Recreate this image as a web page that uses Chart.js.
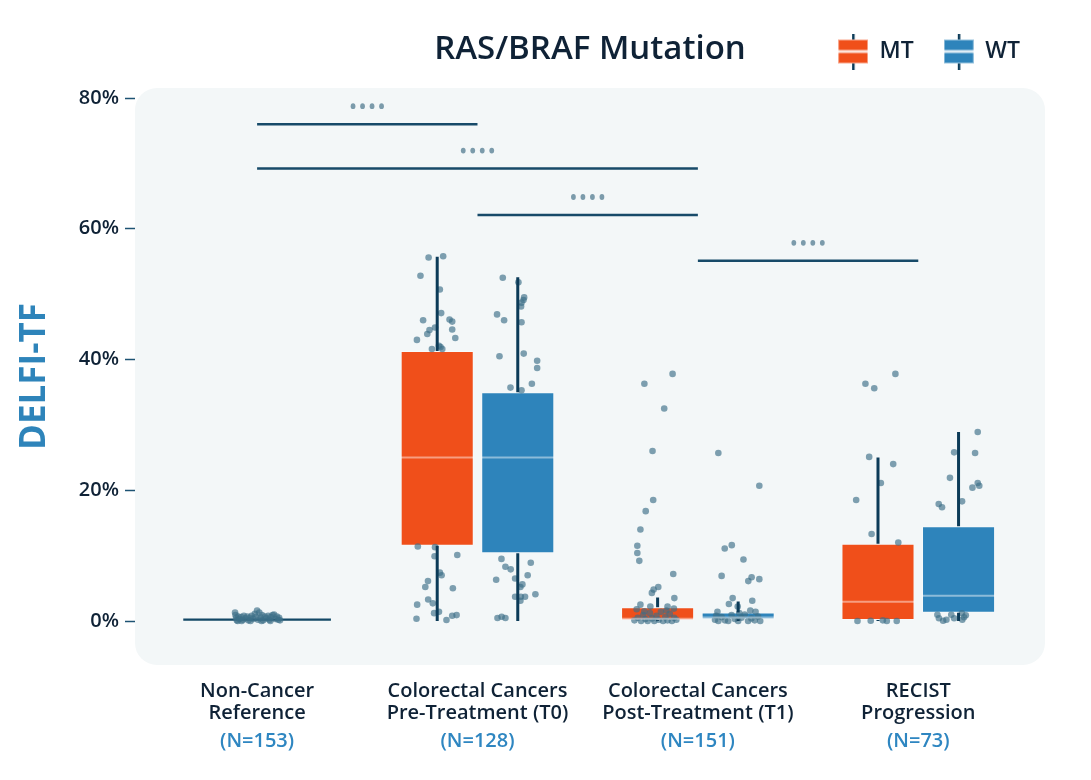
<!DOCTYPE html>
<html>
<head>
<meta charset="utf-8">
<script src="https://cdn.jsdelivr.net/npm/chart.js@4.4.1/dist/chart.umd.min.js"></script>
<style>
  html, body { margin: 0; padding: 0; background: #fff; }
  #wrap { width: 1091px; height: 780px; }
</style>
</head>
<body>
<div id="wrap"><canvas id="chart"></canvas></div>
<script>
const categories = [
    ['Non-Cancer', 'Reference'],
    ['Colorectal Cancers', 'Pre-Treatment (T0)'],
    ['Colorectal Cancers', 'Post-Treatment (T1)'],
    ['RECIST', 'Progression']
];
const sampleSizes = ['(N=153)', '(N=128)', '(N=151)', '(N=73)'];
const mutationGroups = ['MT', 'WT'];
const yTicks = [0, 20, 40, 60, 80];

// box stats (%), for groups T0, T1, RECIST
const boxGroups = [1, 2, 3];
const mtLow = [0, 0, 0];
const mtQ1 = [11.5, 0.1, 0.15];
const mtMedian = [25.0, 0.35, 2.95];
const mtQ3 = [41.3, 2.1, 11.8];
const mtHigh = [55.7, 3.6, 25.0];
const wtLow = [0, 0, 0];
const wtQ1 = [10.35, 0.25, 1.27];
const wtMedian = [25.0, 0.55, 3.87];
const wtQ3 = [35.0, 1.3, 14.5];
const wtHigh = [52.6, 3.0, 28.9];
const nonCancerBox = [0.0, 0.35];

// significance brackets
const sigFrom = [0, 0, 1, 2];
const sigTo = [1, 2, 2, 3];
const sigLevel = [76.0, 69.2, 62.1, 55.1];

// visible samples: [jitter (category units), value %]
const ptsNonCancer = [
    [-0.100, 1.3], [-0.098, 0.9], [-0.095, 0.5], [-0.092, 0.1], [-0.085, 0.7], [-0.080, 0.3],
    [-0.072, 0.6], [-0.065, 0.2], [-0.060, 0.8], [-0.052, 0.4], [-0.045, 0.7], [-0.040, 0.1],
    [-0.032, 0.5], [-0.025, 0.8], [-0.018, 0.3], [-0.010, 1.1], [-0.005, 0.6], [0.000, 1.6],
    [0.004, 0.2], [0.010, 1.3], [0.016, 0.5], [0.022, 0.9], [0.028, 0.1], [0.035, 0.7],
    [0.042, 0.4], [0.050, 0.8], [0.056, 0.2], [0.063, 0.6], [0.070, 0.9], [0.077, 1.0],
    [0.083, 0.3], [0.090, 0.7], [0.096, 0.2], [0.100, 0.5], [0.104, 0.1], [-0.070, 0.0],
    [-0.030, 0.0], [0.020, 0.0], [0.060, 0.0], [-0.088, 0.0]
];
const ptsT0MT = [
    [-0.039, 55.6], [0.027, 55.8], [-0.076, 52.8], [0.012, 50.7], [0.018, 47.1], [-0.064, 46.0],
    [0.056, 46.1], [0.068, 45.8], [-0.035, 44.5], [-0.045, 43.9], [-0.010, 44.9], [0.068, 44.6],
    [0.082, 43.3], [-0.092, 43.0], [-0.024, 41.6], [0.015, 41.9], [0.023, 41.6], [0.008, 42.1],
    [-0.088, 11.4], [-0.010, 11.3], [-0.012, 9.9], [0.091, 10.1], [0.012, 7.4], [0.020, 7.0],
    [-0.042, 6.1], [-0.054, 5.2], [0.071, 5.0], [-0.041, 3.3], [-0.020, 2.7], [-0.091, 2.5],
    [-0.014, 1.2], [0.008, 1.4], [0.068, 0.8], [0.088, 0.9], [-0.094, 0.35], [0.042, 0.15]
];
const ptsT0WT = [
    [-0.068, 52.5], [0.003, 51.8], [0.029, 49.5], [0.026, 49.1], [0.017, 48.7], [0.015, 48.1],
    [-0.094, 46.9], [-0.062, 46.0], [0.017, 45.7], [-0.083, 40.5], [0.027, 40.9], [0.088, 39.8],
    [0.088, 38.7], [0.064, 36.3], [-0.033, 35.7], [0.017, 35.3],
    [-0.074, 9.5], [0.059, 8.9], [-0.056, 8.3], [-0.032, 7.9], [0.045, 7.0], [-0.098, 6.3],
    [-0.012, 6.5], [0.021, 5.6], [0.012, 5.2], [-0.012, 3.7], [0.014, 3.7], [0.033, 3.7],
    [0.012, 3.1], [0.080, 4.1], [-0.092, 0.46], [-0.073, 0.66], [-0.056, 0.46]
];
const ptsT1MT = [
    [0.068, 37.8], [-0.060, 36.3], [0.030, 32.5], [-0.023, 26.0], [-0.020, 18.5], [-0.054, 16.8],
    [-0.078, 14.0], [-0.092, 11.5], [-0.092, 10.4], [-0.083, 9.2], [0.071, 7.2], [0.003, 5.2],
    [-0.018, 4.8], [-0.026, 4.3], [0.076, 3.5], [-0.078, 2.5], [-0.033, 2.2], [0.045, 2.2],
    [-0.095, 1.8], [0.074, 1.9],
    [-0.105, 0.1], [-0.090, 0.5], [-0.075, 0.0], [-0.065, 0.9], [-0.055, 0.3], [-0.045, 0.0],
    [-0.035, 1.2], [-0.025, 0.4], [-0.015, 0.0], [-0.005, 0.8], [0.005, 0.2], [0.015, 1.4],
    [0.025, 0.0], [0.035, 0.6], [0.045, 0.1], [0.055, 1.1], [0.065, 0.0], [0.075, 0.5],
    [0.085, 0.2], [-0.060, 1.5], [0.040, 1.6]
];
const ptsT1WT = [
    [-0.090, 25.7], [0.096, 20.7], [-0.061, 11.1], [-0.029, 11.6], [0.024, 9.4], [-0.075, 6.9],
    [0.061, 6.7], [0.046, 6.1], [0.096, 6.4], [-0.025, 3.5], [0.064, 3.1], [-0.042, 2.6],
    [-0.002, 2.2], [-0.094, 1.4], [0.055, 1.6], [0.079, 1.4],
    [-0.105, 0.2], [-0.090, 0.0], [-0.075, 0.6], [-0.060, 0.1], [-0.045, 0.0], [-0.030, 0.9],
    [-0.015, 0.3], [0.000, 0.0], [0.015, 0.5], [0.030, 1.0], [0.045, 0.0], [0.060, 0.4],
    [0.075, 0.1], [0.090, 0.7], [0.100, 0.0], [-0.100, 0.8], [0.005, 1.2]
];
const ptsRecistMT = [
    [0.079, 37.8], [-0.057, 36.3], [-0.017, 35.6], [-0.040, 25.1], [0.069, 24.0], [0.013, 21.1],
    [-0.099, 18.5], [-0.029, 13.3], [0.092, 12.0],
    [-0.093, 0.0], [-0.033, 0.05], [0.022, 0.1], [0.040, 0.0], [0.085, 0.0]
];
const ptsRecistWT = [
    [0.087, 28.9], [-0.020, 25.8], [0.075, 25.7], [-0.039, 21.9], [0.087, 21.1], [0.094, 20.7],
    [0.063, 20.4], [-0.090, 17.9], [-0.075, 17.4], [0.016, 18.3],
    [-0.096, 0.96], [-0.089, 0.41], [-0.070, 0.05], [-0.055, 0.2], [-0.033, 0.96], [-0.020, 0.41],
    [0.015, 1.18], [0.025, 0.57], [0.033, 0.87], [0.017, 0.2]
];

const MT_COLOR = '#f04f1a';
const WT_COLOR = '#2e84bb';
const INK = '#0f2236';
const WHISKER = '#0c3b58';
const CAT_PCT = 0.731;
const BAR_PCT = 0.907;
const dodge = CAT_PCT / 4;

Chart.defaults.font.family = "'Open Sans', sans-serif";
Chart.defaults.color = INK;

function toPoints(group, shift, pts) {
    return pts.map(p => ({ x: group + shift + p[0], y: p[1] }));
}

function boxData(q1, q3) {
    return boxGroups.map((g, i) => ({ x: g, y: [q1[i], q3[i]] }));
}

function boxIcon(color) {
    const c = document.createElement('canvas');
    c.width = 30;
    c.height = 36;
    const g = c.getContext('2d');
    g.fillStyle = WHISKER;
    g.fillRect(14, 0, 2.5, 36);
    g.fillStyle = color;
    g.fillRect(0, 6, 30, 24);
    g.strokeStyle = 'rgba(255,255,255,0.5)';
    g.lineWidth = 1;
    g.strokeRect(0.5, 6.5, 29, 23);
    g.fillStyle = 'rgba(255,255,255,0.85)';
    g.fillRect(0, 16.5, 30, 3);
    return c;
}

const samplePoints = [].concat(
    toPoints(0, 0, ptsNonCancer),
    toPoints(1, -dodge, ptsT0MT), toPoints(1, dodge, ptsT0WT),
    toPoints(2, -dodge, ptsT1MT), toPoints(2, dodge, ptsT1WT),
    toPoints(3, -dodge, ptsRecistMT), toPoints(3, dodge, ptsRecistWT)
);

const sigDatasets = sigLevel.map((lvl, i) => ({
    type: 'line',
    data: [{ x: sigFrom[i], y: lvl }, { x: sigTo[i], y: lvl }],
    borderColor: '#174a69',
    borderWidth: 2.5,
    pointRadius: 0,
    order: 1
}));

// extra space under the legend row, and nudge it right
const legendGap = {
    id: 'legendGap',
    afterInit(chart) {
        const fit = chart.legend.fit;
        chart.legend.fit = function () {
            fit.call(this);
            this.height += 15;
        };
    },
    afterLayout(chart) {
        chart.legend.right += 5;
    }
};

const boxExtras = {
    id: 'boxExtras',
    beforeDraw(chart) {
        const { ctx, chartArea: a } = chart;
        const r = 22;
        ctx.save();
        ctx.fillStyle = '#f3f7f8';
        ctx.beginPath();
        ctx.moveTo(a.left + r, a.top);
        ctx.arcTo(a.right, a.top, a.right, a.bottom, r);
        ctx.arcTo(a.right, a.bottom, a.left, a.bottom, r);
        ctx.arcTo(a.left, a.bottom, a.left, a.top, r);
        ctx.arcTo(a.left, a.top, a.right, a.top, r);
        ctx.closePath();
        ctx.fill();
        ctx.restore();
    },
    afterDatasetsDraw(chart) {
        const { ctx, scales: { x, y } } = chart;
        ctx.save();
        [[0, mtLow, mtMedian, mtQ1, mtQ3, mtHigh], [1, wtLow, wtMedian, wtQ1, wtQ3, wtHigh]].forEach(([di, lo, med, q1, q3, hi]) => {
            chart.getDatasetMeta(di).data.forEach((bar, i) => {
                const half = bar.width / 2;
                ctx.strokeStyle = 'rgba(255,255,255,0.45)';
                ctx.lineWidth = 2;
                ctx.beginPath();
                ctx.moveTo(bar.x - half, y.getPixelForValue(med[i]));
                ctx.lineTo(bar.x + half, y.getPixelForValue(med[i]));
                ctx.stroke();
                ctx.strokeStyle = WHISKER;
                ctx.lineWidth = 3;
                ctx.beginPath();
                ctx.moveTo(bar.x, y.getPixelForValue(q3[i]));
                ctx.lineTo(bar.x, y.getPixelForValue(hi[i]));
                ctx.moveTo(bar.x, y.getPixelForValue(lo[i]));
                ctx.lineTo(bar.x, y.getPixelForValue(q1[i]));
                ctx.stroke();
            });
        });
        // **** marks above the brackets
        ctx.fillStyle = '#7b9bab';
        sigLevel.forEach((lvl, i) => {
            const cx = x.getPixelForValue((sigFrom[i] + sigTo[i]) / 2);
            const cy = y.getPixelForValue(lvl) - 18;
            for (let k = 0; k < 4; k++) {
                ctx.beginPath();
                ctx.ellipse(cx + (k - 1.5) * 9.5, cy, 2.4, 2.9, 0, 0, Math.PI * 2);
                ctx.fill();
            }
        });
        ctx.restore();
    },
    afterDraw(chart) {
        const { ctx, chartArea: a } = chart;
        ctx.save();
        ctx.font = "600 33px 'Open Sans', sans-serif";
        ctx.fillStyle = INK;
        ctx.textAlign = 'center';
        ctx.textBaseline = 'middle';
        ctx.fillText('RAS/BRAF Mutation', a.left + a.width / 2, 50);
        ctx.restore();
    }
};

const ctx = document.getElementById('chart').getContext('2d');
window.deflChart = new Chart(ctx, {
    type: 'bar',
    data: {
        datasets: [
            {
                label: mutationGroups[0],
                data: boxData(mtQ1, mtQ3),
                backgroundColor: MT_COLOR,
                borderColor: 'rgba(255,255,255,0.35)',
                borderWidth: 1,
                borderSkipped: false,
                categoryPercentage: CAT_PCT,
                barPercentage: BAR_PCT,
                order: 3
            },
            {
                label: mutationGroups[1],
                data: boxData(wtQ1, wtQ3),
                backgroundColor: WT_COLOR,
                borderColor: 'rgba(255,255,255,0.35)',
                borderWidth: 1,
                borderSkipped: false,
                categoryPercentage: CAT_PCT,
                barPercentage: BAR_PCT,
                order: 3
            },
            {
                label: 'Non-Cancer',
                data: [{ x: 0, y: nonCancerBox }],
                backgroundColor: '#134866',
                grouped: false,
                barThickness: 147,
                order: 3
            },
            {
                type: 'scatter',
                label: 'Samples',
                data: samplePoints,
                backgroundColor: 'rgba(60,110,135,0.65)',
                borderWidth: 0,
                pointRadius: 3.3,
                order: 2
            },
            ...sigDatasets
        ]
    },
    options: {
        responsive: true,
        maintainAspectRatio: false,
        animation: false,
        layout: {
            padding: { top: 10, right: 46, bottom: 28, left: 0 }
        },
        plugins: {
            tooltip: { enabled: false },
            legend: {
                position: 'top',
                align: 'end',
                labels: {
                    usePointStyle: true,
                    pointStyleWidth: 30,
                    padding: 30,
                    color: INK,
                    font: { size: 23, weight: '600' },
                    generateLabels: () => mutationGroups.map((g, i) => ({
                        text: g,
                        pointStyle: boxIcon(i === 0 ? MT_COLOR : WT_COLOR),
                        fontColor: INK,
                        lineWidth: 0,
                        datasetIndex: i
                    }))
                }
            }
        },
        scales: {
            x: {
                type: 'linear',
                min: -0.554,
                max: 3.575,
                offset: false,
                weight: 1,
                afterFit: axis => { axis.height = 59; },
                grid: { display: false, drawTicks: false, offset: false },
                border: { display: false },
                afterBuildTicks: axis => { axis.ticks = categories.map((c, i) => ({ value: i })); },
                ticks: {
                    autoSkip: false,
                    maxRotation: 0,
                    padding: 15,
                    color: INK,
                    font: { size: 20, weight: '600', lineHeight: 22 / 20 },
                    callback: (v, i) => categories[i]
                }
            },
            x2: {
                type: 'linear',
                position: 'bottom',
                min: -0.554,
                max: 3.575,
                offset: false,
                weight: 2,
                afterFit: axis => { axis.height = 28; },
                grid: { display: false, drawTicks: false, offset: false },
                border: { display: false },
                afterBuildTicks: axis => { axis.ticks = sampleSizes.map((s, i) => ({ value: i })); },
                ticks: {
                    autoSkip: false,
                    maxRotation: 0,
                    padding: 6,
                    color: '#2e86c1',
                    font: { size: 20, weight: '600', lineHeight: 22 / 20 },
                    callback: (v, i) => sampleSizes[i]
                }
            },
            y: {
                min: -6.73,
                max: 81.53,
                afterFit: axis => { axis.width = 135; },
                afterBuildTicks: axis => { axis.ticks = yTicks.map(v => ({ value: v })); },
                grid: {
                    drawOnChartArea: false,
                    drawTicks: true,
                    tickLength: 10,
                    tickWidth: 1.5,
                    tickColor: '#1d5373'
                },
                border: { display: false },
                ticks: {
                    padding: 6,
                    color: INK,
                    font: { size: 20, weight: '600' },
                    callback: v => v + '%'
                },
                title: {
                    display: true,
                    text: 'DELFI-TF',
                    color: '#2e84ba',
                    font: { size: 35, weight: 'bold' },
                    padding: { top: 14, bottom: 0 }
                }
            }
        }
    },
    plugins: [legendGap, boxExtras]
});
</script>
</body>
</html>
